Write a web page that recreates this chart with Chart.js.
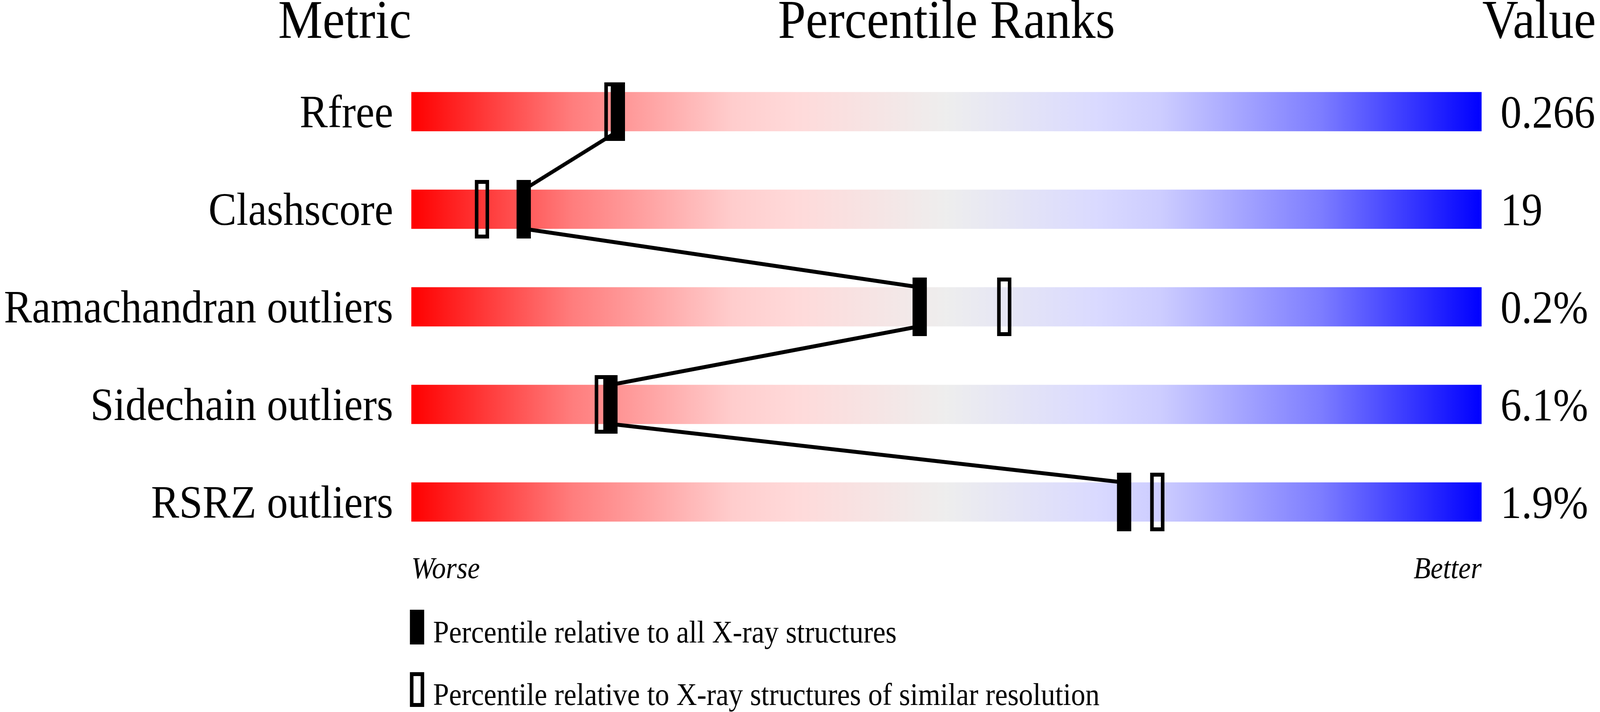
<!DOCTYPE html>
<html>
<head>
<meta charset="utf-8">
<title>Percentile Ranks</title>
<script src="https://cdn.jsdelivr.net/npm/chart.js@4.4.1/dist/chart.umd.min.js"></script>
<style>
    html, body { margin: 0; padding: 0; background: #fff; overflow: hidden; }
    #wrap { width: 4485px; height: 1824px; position: absolute; left: 0; top: 0; transform-origin: 0 0; }
</style>
</head>
<body>
<div id="wrap"><canvas id="chart"></canvas></div>
<script>
// data
const metrics = ['Rfree', 'Clashscore', 'Ramachandran outliers', 'Sidechain outliers', 'RSRZ outliers'];
const metricValues = ['0.266', '19', '0.2%', '6.1%', '1.9%'];
const pctAllXray = [19.3, 10.5, 47.5, 18.6, 66.6];       // filled markers
const pctSimilarRes = [18.7, 6.6, 55.4, 17.8, 69.7];     // open markers
const headers = ['Metric', 'Percentile Ranks', 'Value'];
const scaleEnds = ['Worse', 'Better'];
const legendLabels = [
    'Percentile relative to all X-ray structures',
    'Percentile relative to X-ray structures of similar resolution'
];

const SERIF = '"Liberation Serif", "Times New Roman", serif';

// red -> grey -> blue colour ramp of the slider bars
const rampStops = [
    [0, 'rgb(255,0,0)'],
    [0.15, 'rgb(255,125,125)'],
    [0.3, 'rgb(255,205,205)'],
    [0.36, 'rgb(255,218,218)'],
    [0.5, 'rgb(238,238,238)'],
    [0.64, 'rgb(218,218,255)'],
    [0.7, 'rgb(205,205,255)'],
    [0.85, 'rgb(125,125,255)'],
    [1, 'rgb(0,0,255)']
];

let rampCache = null;
const barGradient = (context) => {
    const { chart } = context;
    const area = chart.chartArea;
    if (!area) return '#eee';
    if (rampCache && rampCache.l === area.left && rampCache.r === area.right) return rampCache.g;
    const g = chart.ctx.createLinearGradient(area.left, 0, area.right, 0);
    rampStops.forEach(([o, c]) => g.addColorStop(o, c));
    rampCache = { l: area.left, r: area.right, g };
    return g;
};

// marker glyphs (40 x 150 px)
const makeMarker = (filled) => {
    const c = document.createElement('canvas');
    c.width = 40;
    c.height = 150;
    const g = c.getContext('2d');
    g.fillStyle = '#000';
    g.strokeStyle = '#000';
    if (filled) {
        g.fillRect(0, 0, 40, 150);
    } else {
        g.lineWidth = 10;
        g.strokeRect(5, 5, 30, 140);
    }
    return c;
};
const filledMarker = makeMarker(true);
const openMarker = makeMarker(false);

// connecting line: from bottom edge of one bar to top edge of the next
const HALF_BAR = 0.2;
const linkPoints = [];
pctAllXray.forEach((p, i) => {
    if (i > 0) linkPoints.push({ x: p, y: i - HALF_BAR });
    if (i < pctAllXray.length - 1) linkPoints.push({ x: p, y: i + HALF_BAR });
});

// headers and legend drawn around the plot area
const decorations = {
    id: 'decorations',
    afterDraw(chart) {
        const { ctx, chartArea } = chart;
        ctx.save();
        ctx.fillStyle = '#000';
        ctx.textBaseline = 'alphabetic';
        ctx.font = '140px ' + SERIF;
        ctx.textAlign = 'right';
        ctx.fillText(headers[0], chartArea.left, 97);
        ctx.textAlign = 'center';
        ctx.fillText(headers[1], (chartArea.left + chartArea.right) / 2, 97);
        ctx.textAlign = 'left';
        ctx.fillText(headers[2], chartArea.right + 2, 97);

        ctx.font = '80px ' + SERIF;
        const lx = chartArea.left - 4;
        const rows = [1562, 1722];
        legendLabels.forEach((label, i) => {
            const top = rows[i];
            if (i === 0) {
                ctx.fillRect(lx, top, 40, 89);
            } else {
                ctx.lineWidth = 10;
                ctx.strokeStyle = '#000';
                ctx.strokeRect(lx + 5, top + 5, 30, 79);
            }
            ctx.fillText(label, lx + 65, top + 84);
        });
        ctx.restore();
    }
};

const rowAxis = (position, labels, width, padding, offset) => ({
    type: 'linear',
    position,
    min: -0.5,
    max: 4.5,
    reverse: true,
    offset: false,
    grid: { display: false, drawTicks: false, offset: false },
    border: { display: false },
    afterBuildTicks: (s) => { s.ticks = labels.map((_, i) => ({ value: i })); },
    afterFit: (s) => { s.width = width; },
    ticks: {
        autoSkip: false,
        padding,
        labelOffset: offset,
        color: '#000',
        font: { family: SERIF, size: 118 },
        callback: (v) => labels[v]
    }
});

// the window can come out narrower than 4485 px: stretch the drawing onto it
const wrap = document.getElementById('wrap');
const sx = window.innerWidth / 4485;
const sy = window.innerHeight / 1824;
if (sx && sy && (Math.abs(sx - 1) > 0.002 || Math.abs(sy - 1) > 0.002)) {
    wrap.style.transform = 'scale(' + sx + ',' + sy + ')';
}

new Chart(document.getElementById('chart'), {
    type: 'bar',
    data: {
        datasets: [
            {
                type: 'bar',
                indexAxis: 'y',
                data: metrics.map((_, i) => ({ x: 100, y: i })),
                backgroundColor: barGradient,
                borderWidth: 0,
                barThickness: 100,
                order: 4
            },
            {
                type: 'line',
                data: pctSimilarRes.map((p, i) => ({ x: p, y: i })),
                showLine: false,
                pointStyle: openMarker,
                pointRadius: 1,
                order: 3
            },
            {
                type: 'line',
                data: linkPoints,
                borderColor: '#000',
                borderWidth: 10,
                borderJoinStyle: 'round',
                pointRadius: 0,
                fill: false,
                order: 2
            },
            {
                type: 'line',
                data: pctAllXray.map((p, i) => ({ x: p, y: i })),
                showLine: false,
                pointStyle: filledMarker,
                pointRadius: 1,
                order: 1
            }
        ]
    },
    options: {
        responsive: true,
        maintainAspectRatio: false,
        animation: false,
        events: [],
        layout: { padding: { top: 161, left: 0, right: 0, bottom: 0 } },
        plugins: {
            legend: { display: false },
            tooltip: { enabled: false }
        },
        scales: {
            x: {
                type: 'linear',
                position: 'bottom',
                min: 0,
                max: 100,
                offset: false,
                grid: { display: false, drawTicks: false, offset: false },
                border: { display: false },
                afterBuildTicks: (s) => { s.ticks = [{ value: 0 }, { value: 100 }]; },
                afterFit: (s) => { s.height = 413; },
                ticks: {
                    align: 'inner',
                    autoSkip: false,
                    maxRotation: 0,
                    padding: 3,
                    color: '#000',
                    font: { family: SERIF, size: 78, style: 'italic' },
                    callback: (v) => (v === 0 ? scaleEnds[0] : scaleEnds[1])
                }
            },
            y: rowAxis('left', metrics, 1153, 51, 9),
            y2: rowAxis('right', metricValues, 332, 53, 10)
        }
    },
    plugins: [decorations]
});
</script>
</body>
</html>
